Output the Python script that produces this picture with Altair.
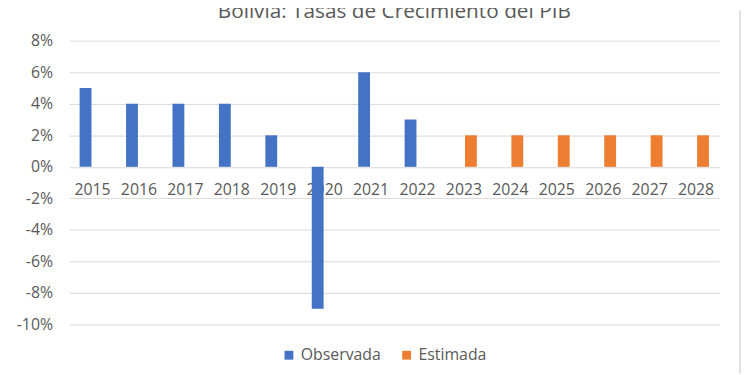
import altair as alt
import pandas as pd

title_text = "Bolivia: Tasas de Crecimiento del PIB"
years_obs = ["2015", "2016", "2017", "2018", "2019", "2020", "2021", "2022"]
observada = [5, 4, 4, 4, 2, -9, 6, 3]
years_est = ["2023", "2024", "2025", "2026", "2027", "2028"]
estimada = [2, 2, 2, 2, 2, 2]
series = ["Observada", "Estimada"]
colors = ["#4472C4", "#ED7D31"]
y_ticks = [-10, -8, -6, -4, -2, 0, 2, 4, 6, 8]

rows = [{"year": y, "serie": "Observada", "value": v} for y, v in zip(years_obs, observada)]
rows += [{"year": y, "serie": "Estimada", "value": v} for y, v in zip(years_est, estimada)]
df = pd.DataFrame(rows)
years = years_obs + years_est

W, H = 657, 287
FONT = "Open Sans"
GRAY = "#595959"

bars = alt.Chart(df).mark_bar().encode(
    x=alt.X("year:N", sort=years, title=None,
            scale=alt.Scale(paddingInner=0.445, paddingOuter=0.222),
            axis=alt.Axis(orient="bottom", offset=-H * 10 / 18, domain=False, ticks=False,
                          grid=False, labelAngle=0, labelFontSize=16, labelFont=FONT,
                          labelColor=GRAY, labelPadding=15)),
    xOffset=alt.XOffset("serie:N", sort=series, scale=alt.Scale(paddingInner=0.15)),
    y=alt.Y("value:Q", title=None,
            scale=alt.Scale(domain=[-10, 8], nice=False, zero=True),
            axis=alt.Axis(values=y_ticks, labelExpr="datum.value + '%'", domain=False,
                          ticks=False, grid=True, gridColor="#d9d9d9", gridWidth=1,
                          labelFontSize=16, labelFont=FONT, labelColor=GRAY,
                          labelPadding=17)),
    color=alt.Color("serie:N", sort=series,
                    scale=alt.Scale(domain=series, range=colors),
                    legend=alt.Legend(orient="none", legendX=214, legendY=310,
                                      direction="horizontal", title=None,
                                      symbolType="square", symbolSize=80,
                                      symbolStrokeWidth=0, labelFontSize=16,
                                      labelFont=FONT, labelColor=GRAY,
                                      columnPadding=18)),
)

title = alt.Chart(pd.DataFrame({"t": [title_text]})).mark_text(
    fontSize=21, font=FONT, color=GRAY, baseline="alphabetic", align="center"
).encode(text="t:N", x=alt.value(W / 2), y=alt.value(-23))

border = alt.Chart(pd.DataFrame({"a": [0]})).mark_rule(color="#d9d9d9", strokeWidth=1.5).encode(
    x=alt.value(740 - 62), y=alt.value(-31), y2=alt.value(H + 50)
)

chart = alt.layer(bars, title, border).properties(
    width=W, height=H,
    autosize=alt.AutoSizeParams(type="none"),
    padding={"left": 62, "top": 31, "right": 23, "bottom": 49},
).configure_view(stroke=None)

chart.save("out.html", embed_options={"renderer": "svg", "actions": False})
